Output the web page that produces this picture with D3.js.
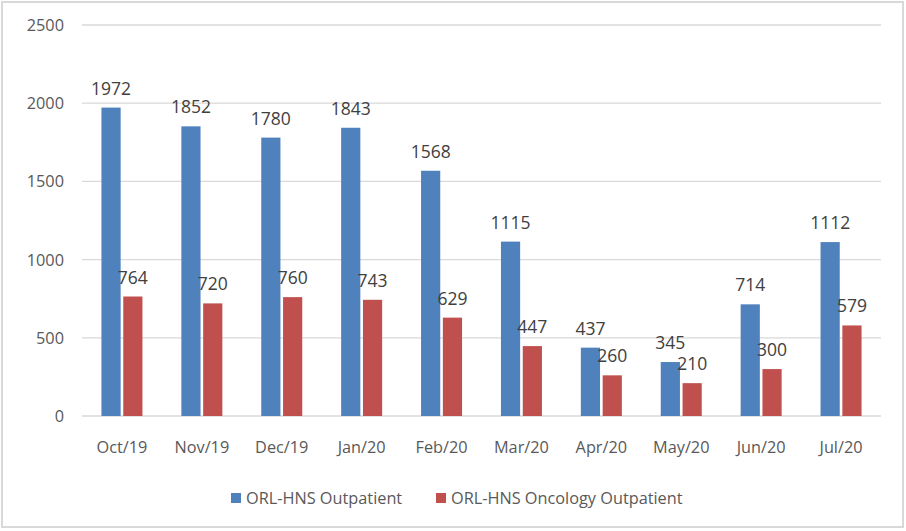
<!DOCTYPE html>
<html><head><meta charset="utf-8">
<script src="https://cdn.jsdelivr.net/npm/d3@7"></script>
<style>body{margin:0;background:#fff;} svg{display:block;}</style>
</head><body>
<svg id="c" width="906" height="531"></svg>
<script>
const categories = ["Oct/19","Nov/19","Dec/19","Jan/20","Feb/20","Mar/20","Apr/20","May/20","Jun/20","Jul/20"];
const seriesNames = ["ORL-HNS Outpatient","ORL-HNS Oncology Outpatient"];
const outpatient = [1972,1852,1780,1843,1568,1115,437,345,714,1112];
const oncology = [764,720,760,743,629,447,260,210,300,579];
const yTicks = [0,500,1000,1500,2000,2500];
const colors = ["#4f81bd","#c0504d"];

const svg = d3.select("#c");
const font = "'Open Sans', 'Noto Sans', sans-serif";
const txt = "#595959";
svg.append("rect").attr("x",2).attr("y",2).attr("width",901).attr("height",525)
  .attr("fill","#fff").attr("stroke","#d9d9d9").attr("stroke-width",2);

const L=82,R=881,T=25,B=416;
const x = d3.scaleBand().domain(categories).range([L,R]);
const y = d3.scaleLinear().domain([0,2500]).range([B,T]);
const sub = d3.scaleBand().domain([0,1]).range([-20.5,20.5]).paddingInner(0.12);

const gy = svg.append("g");
gy.selectAll("line").data(yTicks).join("line")
  .attr("x1",L).attr("x2",R).attr("y1",d=>y(d)).attr("y2",d=>y(d))
  .attr("stroke","#d9d9d9").attr("stroke-width",1.3);
gy.selectAll("text").data(yTicks).join("text")
  .attr("x",64).attr("y",d=>y(d)+6).attr("text-anchor","end")
  .attr("font-family",font).attr("font-size",16.3).attr("fill",txt).text(d=>d);

const data = [outpatient, oncology];
data.forEach((vals,si)=>{
  const g = svg.append("g");
  g.selectAll("rect").data(vals).join("rect")
    .attr("x",(d,i)=>x(categories[i])+x.bandwidth()/2+sub(si))
    .attr("width",sub.bandwidth())
    .attr("y",d=>y(d)).attr("height",d=>B-y(d)).attr("fill",colors[si]);
  g.selectAll("text").data(vals).join("text")
    .attr("x",(d,i)=>x(categories[i])+x.bandwidth()/2+sub(si)+sub.bandwidth()/2)
    .attr("y",d=>y(d)-13).attr("text-anchor","middle")
    .attr("font-family",font).attr("font-size",17.5).attr("fill","#404040").text(d=>d);
});

svg.append("g").selectAll("text").data(categories).join("text")
  .attr("x",d=>x(d)+x.bandwidth()/2).attr("y",453).attr("text-anchor","middle")
  .attr("font-family",font).attr("font-size",16.3).attr("fill",txt).text(d=>d);

const legX=[231,436];
seriesNames.forEach((n,i)=>{
  svg.append("rect").attr("x",legX[i]).attr("y",493).attr("width",10).attr("height",10).attr("fill",colors[i]);
  svg.append("text").attr("x",legX[i]+15).attr("y",503.5).attr("font-family",font)
    .attr("font-size",16.3).attr("fill",txt).text(n);
});
</script>
</body></html>
